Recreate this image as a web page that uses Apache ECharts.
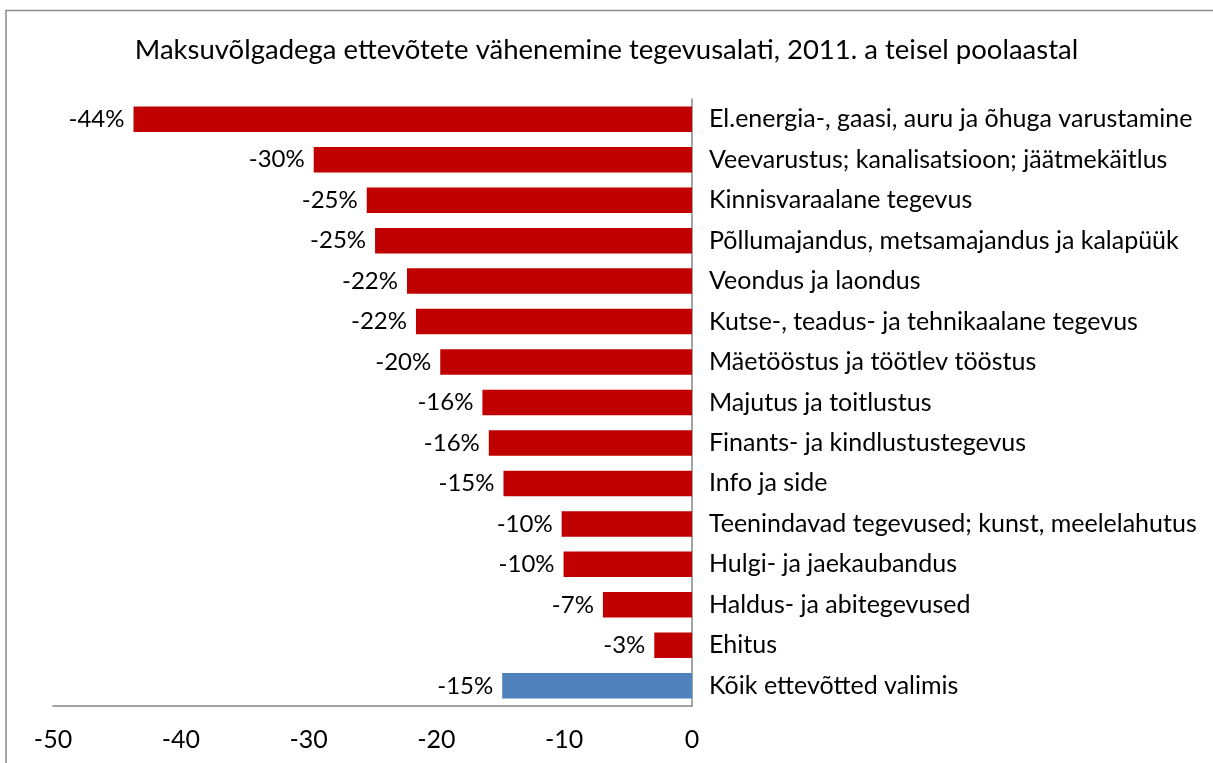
<!DOCTYPE html>
<html>
<head>
<meta charset="utf-8">
<script src="https://cdn.jsdelivr.net/npm/echarts@6/dist/echarts.min.js"></script>
<style>
html,body{margin:0;padding:0;background:#fff;}
#chart{width:1213px;height:763px;}
</style>
</head>
<body>
<div id="chart"></div>
<script>
var titleText = 'Maksuvõlgadega ettevõtete vähenemine tegevusalati, 2011. a teisel poolaastal';
var categories = [
  'El.energia-, gaasi, auru ja õhuga varustamine',
  'Veevarustus; kanalisatsioon; jäätmekäitlus',
  'Kinnisvaraalane tegevus',
  'Põllumajandus, metsamajandus ja kalapüük',
  'Veondus ja laondus',
  'Kutse-, teadus- ja tehnikaalane tegevus',
  'Mäetööstus ja töötlev tööstus',
  'Majutus ja toitlustus',
  'Finants- ja kindlustustegevus',
  'Info ja side',
  'Teenindavad tegevused; kunst, meelelahutus',
  'Hulgi- ja jaekaubandus',
  'Haldus- ja abitegevused',
  'Ehitus',
  'Kõik ettevõtted valimis'
];
var values = [-43.7, -29.6, -25.45, -24.8, -22.3, -21.6, -19.7, -16.4, -15.9, -14.75, -10.2, -10.05, -6.97, -2.95, -14.85];
var totalIndex = 14;
var xTicks = {min: -50, max: 0, interval: 10};

var RED = '#C00000', BLUE = '#4F81BD', AXIS = '#868686';
var FONT = 'Lato';

var chart = echarts.init(document.getElementById('chart'));
chart.setOption({
  backgroundColor: '#fff',
  animation: false,
  title: {
    text: titleText,
    left: 'center',
    top: 31,
    padding: [5, 0, 5, 9],
    textStyle: {fontFamily: FONT, fontSize: 27.5, fontWeight: 'normal', color: '#000'}
  },
  graphic: [{
    type: 'rect',
    shape: {x: 6, y: 10.5, width: 1400, height: 1000},
    style: {fill: 'none', stroke: '#8a8a8a', lineWidth: 1.5},
    silent: true
  }],
  grid: {left: 53, right: 521, top: 99, bottom: 57, containLabel: false},
  xAxis: {
    type: 'value',
    min: xTicks.min, max: xTicks.max, interval: xTicks.interval,
    splitLine: {show: false},
    axisTick: {show: false},
    axisLine: {show: true, onZero: false, lineStyle: {color: AXIS, width: 1.5}},
    axisLabel: {margin: 21, fontFamily: FONT, fontSize: 25, color: '#000'}
  },
  yAxis: {
    type: 'category',
    data: categories,
    inverse: true,
    position: 'right',
    axisTick: {show: false},
    axisLine: {show: true, lineStyle: {color: AXIS, width: 1.5}},
    axisLabel: {margin: 17, fontFamily: FONT, fontSize: 25, color: '#000'}
  },
  series: [{
    type: 'bar',
    barCategoryGap: '37%',
    data: values.map(function (v, i) {
      return {value: v, itemStyle: {color: i === totalIndex ? BLUE : RED}};
    }),
    label: {
      show: true,
      position: 'left',
      distance: 9,
      fontFamily: FONT,
      fontSize: 24,
      color: '#000',
      formatter: function (p) { return Math.round(p.value) + '%'; }
    }
  }]
});
</script>
</body>
</html>
